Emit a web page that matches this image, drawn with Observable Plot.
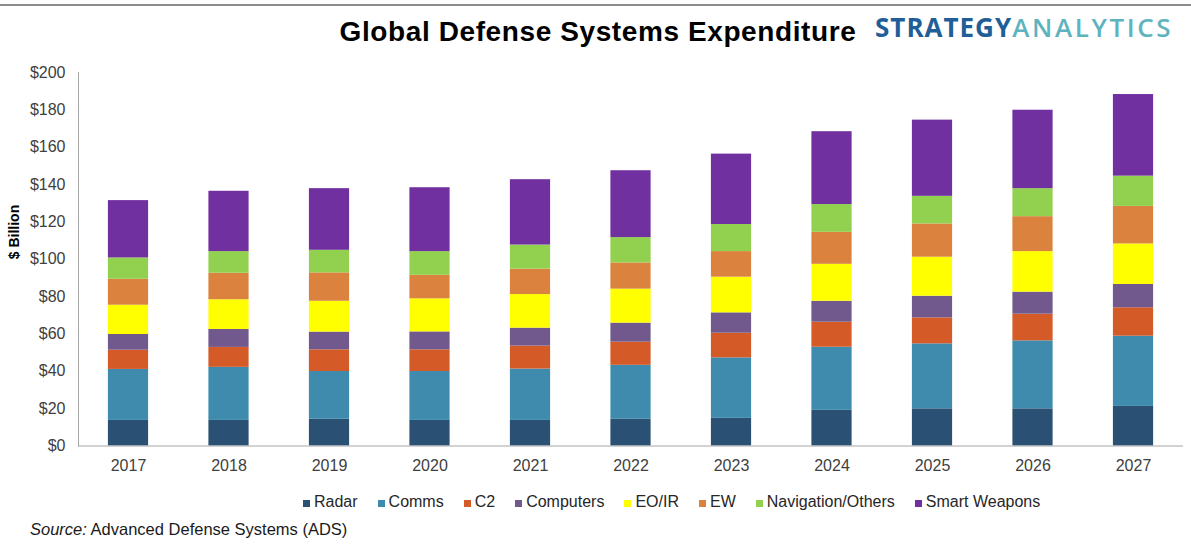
<!DOCTYPE html>
<html>
<head>
<meta charset="utf-8">
<script src="https://cdn.jsdelivr.net/npm/d3@7"></script>
<script src="https://cdn.jsdelivr.net/npm/@observablehq/plot@0.6"></script>
<style>
  html, body { margin: 0; padding: 0; background: #fff; }
  #page { position: relative; width: 1191px; height: 555px; overflow: hidden; font-family: "Liberation Sans", Arial, sans-serif; }
  #topline { position: absolute; left: 0; top: 4px; width: 1191px; height: 1.5px; background: #8c8c8c; }
  #title { position: absolute; left: 0; width: 1196px; top: 18px; text-align: center; font-size: 28px; line-height: 1; font-weight: bold; letter-spacing: 0.6px; color: #000; }
  #logo { position: absolute; left: 875px; top: 14px; font-family: "Open Sans", sans-serif; font-size: 26px; line-height: 1; white-space: nowrap; }
  #logo .s { color: #1f5e96; font-weight: 700; letter-spacing: 1px; }
  #logo .a { color: #5fb3be; font-weight: 600; letter-spacing: 2.6px; }
  #chart { position: absolute; left: 0; top: 55px; }
  #legend { position: absolute; left: 303px; top: 492px; display: flex; gap: 20px; font-size: 16px; line-height: 20px; color: #262626; white-space: nowrap; }
  #legend .item { display: flex; align-items: center; }
  #legend .sw { width: 7px; height: 7px; margin-right: 4px; margin-top: 2px; }
  #source { position: absolute; left: 30px; top: 519px; font-size: 16.5px; line-height: 20px; color: #1a1a1a; white-space: nowrap; }
</style>
</head>
<body>
<div id="page">
  <div id="topline"></div>
  <div id="title"></div>
  <div id="logo"><span class="s"></span><span class="a"></span></div>
  <div id="chart"></div>
  <div id="legend"></div>
  <div id="source"><i>Source:</i> <span id="srcText"></span></div>
</div>
<script>
// ---- text ----
const titleText = "Global Defense Systems Expenditure";
const logoStrong = "STRATEGY";
const logoLight = "ANALYTICS";
const yAxisLabel = "$ Billion";
const sourceText = "Advanced Defense Systems (ADS)";

// ---- categories / ticks ----
const years = ["2017", "2018", "2019", "2020", "2021", "2022", "2023", "2024", "2025", "2026", "2027"];
const categories = ["Radar", "Comms", "C2", "Computers", "EO/IR", "EW", "Navigation/Others", "Smart Weapons"];
const colors = ["#2a5173", "#3f8bad", "#d45a27", "#71598d", "#ffff00", "#db833e", "#92d050", "#7030a0"];
const yTicks = [0, 20, 40, 60, 80, 100, 120, 140, 160, 180, 200];

// ---- series values ($ billion) ----
const radar        = [13.7, 13.7, 14.3, 13.7, 13.7, 14.3, 14.8, 19.1, 19.9, 19.9, 21.2];
const comms        = [27.3, 28.4, 25.6, 26.2, 27.5, 28.9, 32.4, 33.8, 34.8, 36.4, 37.6];
const c2           = [10.3, 10.7, 11.6, 11.6, 12.3, 12.4, 13.2, 13.4, 13.9, 14.3, 15.2];
const computers    = [ 8.4,  9.6,  9.5,  9.6,  9.6, 10.2, 10.9, 11.2, 11.6, 11.8, 12.5];
const eoir         = [15.7, 15.9, 16.5, 17.7, 18.0, 18.2, 19.1, 19.8, 20.9, 21.7, 21.7];
const ew           = [13.9, 14.2, 15.2, 12.6, 13.6, 14.0, 13.7, 17.1, 17.8, 18.7, 20.1];
const navigation   = [11.4, 11.6, 12.1, 12.7, 12.9, 13.6, 14.5, 14.9, 14.8, 15.0, 16.2];
const smartWeapons = [30.7, 32.3, 33.0, 34.2, 35.0, 35.8, 37.7, 39.0, 40.8, 42.0, 43.7];

const series = [radar, comms, c2, computers, eoir, ew, navigation, smartWeapons];
const table = categories.flatMap((c, i) => years.map((y, j) => ({year: y, category: c, value: series[i][j]})));

document.getElementById("title").textContent = titleText;
document.querySelector("#logo .s").textContent = logoStrong;
document.querySelector("#logo .a").textContent = logoLight;
document.getElementById("srcText").textContent = sourceText;

const chart = Plot.plot({
  width: 1191,
  height: 420,
  marginLeft: 78,
  marginRight: 8,
  marginTop: 17,
  marginBottom: 29.5,
  style: {fontSize: "16px", fontFamily: "'Liberation Sans', Arial, sans-serif", color: "#404040", background: "transparent", overflow: "visible"},
  x: {domain: years, paddingInner: 0.6, paddingOuter: 0.2975, round: false, label: null, tickSize: 0, tickPadding: 14},
  y: {domain: [0, 200], ticks: yTicks, tickFormat: d => "$" + d, tickSize: 0, tickPadding: 13, label: null},
  color: {domain: categories, range: colors},
  marks: [
    Plot.barY(table, Plot.stackY({x: "year", y: "value", fill: "category", order: categories})),
    Plot.frame({anchor: "left", stroke: "#a6a6a6"}),
    Plot.ruleY([0], {stroke: "#a6a6a6"}),
    Plot.text([yAxisLabel], {frameAnchor: "left", dx: -64, rotate: -90, fontWeight: "bold", fontSize: 14, fill: "#000"})
  ]
});
document.getElementById("chart").appendChild(chart);

// legend
const legend = document.getElementById("legend");
categories.forEach((c, i) => {
  const item = document.createElement("div");
  item.className = "item";
  const sw = document.createElement("span");
  sw.className = "sw";
  sw.style.background = colors[i];
  const lab = document.createElement("span");
  lab.textContent = c;
  item.appendChild(sw);
  item.appendChild(lab);
  legend.appendChild(item);
});
</script>
</body>
</html>
